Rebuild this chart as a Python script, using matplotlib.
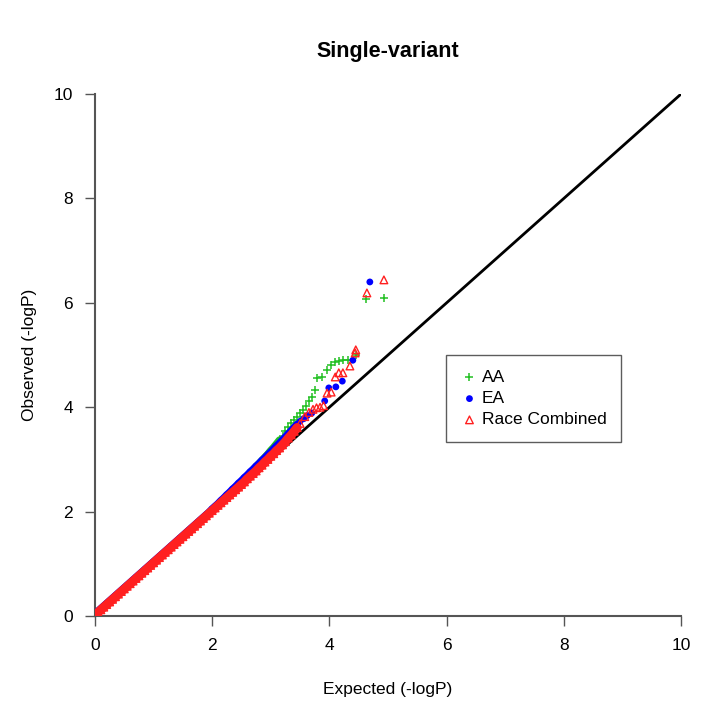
import numpy as np
import matplotlib.pyplot as plt

plt.rcParams['font.family'] = ['Liberation Sans', 'DejaVu Sans']

# expected -log10(P) grid for the dense bulk of the QQ curve
expected_grid = [0.00, 0.05, 0.10, 0.15, 0.20, 0.25, 0.30, 0.35, 0.40, 0.45,
                 0.50, 0.55, 0.60, 0.65, 0.70, 0.75, 0.80, 0.85, 0.90, 0.95,
                 1.00, 1.05, 1.10, 1.15, 1.20, 1.25, 1.30, 1.35, 1.40, 1.45,
                 1.50, 1.55, 1.60, 1.65, 1.70, 1.75, 1.80, 1.85, 1.90, 1.95,
                 2.00, 2.05, 2.10, 2.15, 2.20, 2.25, 2.30, 2.35, 2.40, 2.45,
                 2.50, 2.55, 2.60, 2.65, 2.70, 2.75, 2.80, 2.85, 2.90, 2.95,
                 3.00, 3.05, 3.10, 3.15, 3.20, 3.25, 3.30, 3.35, 3.40, 3.45,
                 3.50]

aa_obs = [0.03, 0.08, 0.13, 0.18, 0.23, 0.28, 0.33, 0.38, 0.43, 0.48,
          0.53, 0.58, 0.63, 0.68, 0.73, 0.78, 0.83, 0.88, 0.93, 0.98,
          1.03, 1.08, 1.13, 1.18, 1.23, 1.28, 1.33, 1.38, 1.43, 1.48,
          1.53, 1.58, 1.63, 1.68, 1.73, 1.78, 1.83, 1.88, 1.93, 1.98,
          2.03, 2.08, 2.13, 2.18, 2.23, 2.28, 2.33, 2.38, 2.43, 2.49,
          2.55, 2.62, 2.68, 2.74, 2.80, 2.86, 2.92, 2.98, 3.04, 3.10,
          3.17, 3.23, 3.30, 3.37, 3.45, 3.54, 3.62, 3.69, 3.76, 3.82,
          3.88]
ea_obs = [0.03, 0.09, 0.14, 0.19, 0.24, 0.29, 0.34, 0.39, 0.44, 0.49,
          0.54, 0.59, 0.64, 0.69, 0.74, 0.79, 0.84, 0.89, 0.94, 0.99,
          1.04, 1.09, 1.14, 1.19, 1.24, 1.29, 1.34, 1.39, 1.44, 1.49,
          1.54, 1.59, 1.64, 1.69, 1.74, 1.79, 1.84, 1.89, 1.94, 1.99,
          2.05, 2.10, 2.15, 2.21, 2.26, 2.32, 2.37, 2.43, 2.48, 2.54,
          2.59, 2.65, 2.70, 2.76, 2.81, 2.87, 2.92, 2.98, 3.03, 3.09,
          3.14, 3.20, 3.26, 3.31, 3.37, 3.43, 3.49, 3.55, 3.61, 3.67,
          3.73]
comb_obs = [0.02, 0.07, 0.12, 0.17, 0.22, 0.27, 0.32, 0.37, 0.42, 0.47,
            0.52, 0.57, 0.62, 0.67, 0.72, 0.77, 0.82, 0.87, 0.92, 0.97,
            1.02, 1.07, 1.12, 1.17, 1.22, 1.27, 1.32, 1.37, 1.42, 1.47,
            1.52, 1.57, 1.62, 1.67, 1.72, 1.77, 1.82, 1.87, 1.92, 1.97,
            2.02, 2.07, 2.12, 2.17, 2.22, 2.27, 2.32, 2.37, 2.42, 2.47,
            2.52, 2.57, 2.63, 2.68, 2.73, 2.78, 2.84, 2.89, 2.95, 3.00,
            3.06, 3.11, 3.17, 3.22, 3.28, 3.34, 3.41, 3.47, 3.54, 3.61,
            3.69]

# sparse upper tail
aa_tail_exp = [3.55, 3.60, 3.65, 3.70, 3.75, 3.79, 3.87, 3.96, 4.03, 4.10, 4.16, 4.23, 4.32, 4.45, 4.62, 4.93]
aa_tail_obs = [3.95, 4.03, 4.11, 4.20, 4.33, 4.56, 4.58, 4.71, 4.81, 4.87, 4.89, 4.90, 4.90, 5.00, 6.07, 6.09]
ea_tail_exp = [3.56, 3.62, 3.70, 3.92, 3.99, 4.11, 4.22, 4.40, 4.69]
ea_tail_obs = [3.78, 3.84, 3.89, 4.12, 4.37, 4.39, 4.50, 4.90, 6.40]
comb_tail_exp = [3.58, 3.65, 3.72, 3.78, 3.84, 3.90, 3.96, 4.03, 4.10, 4.16, 4.23, 4.35, 4.44, 4.45, 4.64, 4.93]
comb_tail_obs = [3.82, 3.90, 3.96, 3.99, 4.00, 4.03, 4.27, 4.29, 4.58, 4.66, 4.66, 4.79, 5.04, 5.10, 6.19, 6.44]

green = '#22c022'
blue = '#0000ff'
red = '#ff2020'

fig = plt.figure(figsize=(7.18, 7.25), dpi=100)
ax = fig.add_axes([0.1323, 0.1503, 0.8162, 0.72])

ax.plot([0, 10], [0, 10], color='black', lw=2.0, zorder=1)

# dense part of each curve: many overlapping points form a solid band
ax.plot(expected_grid[:64], aa_obs[:64], color=green, lw=5.5,
        solid_capstyle='round', zorder=2)
ax.plot(expected_grid[:70], ea_obs[:70], color=blue, lw=5.5,
        solid_capstyle='round', zorder=3)
ax.plot(expected_grid[:70], comb_obs[:70], color=red, lw=6.5,
        solid_capstyle='round', zorder=4)

ax.scatter(expected_grid + aa_tail_exp, aa_obs + aa_tail_obs, marker='+',
           s=34, color=green, linewidths=1.1, zorder=2, label='AA')
ax.scatter(expected_grid + ea_tail_exp, ea_obs + ea_tail_obs, marker='o',
           s=24, color=blue, edgecolors='none', zorder=3, label='EA')
ax.scatter(expected_grid + comb_tail_exp, comb_obs + comb_tail_obs, marker='^',
           s=30, facecolors='none', edgecolors=red, linewidths=1.0,
           zorder=4, label='Race Combined')

ax.set_xlim(0, 10)
ax.set_ylim(0, 10)
ax.set_xticks([0, 2, 4, 6, 8, 10])
ax.set_yticks([0, 2, 4, 6, 8, 10])
for side in ['top', 'right']:
    ax.spines[side].set_visible(False)
for side in ['left', 'bottom']:
    ax.spines[side].set_color('#555555')
    ax.spines[side].set_linewidth(1.5)
ax.tick_params(direction='out', length=7, width=1, color='#555555',
               labelsize=12.5)
ax.tick_params(axis='x', pad=9)
ax.tick_params(axis='y', pad=9)

ax.set_title('Single-variant', fontsize=15.5, fontweight='bold', pad=27)
ax.set_xlabel('Expected (-logP)', fontsize=12.5, labelpad=21)
ax.set_ylabel('Observed (-logP)', fontsize=12.5, labelpad=12)

leg = ax.legend(loc='upper left', bbox_to_anchor=(0.599, 0.5), fontsize=12.5,
                frameon=True, fancybox=False, edgecolor='#333333',
                borderpad=0.85, labelspacing=0.35, handletextpad=0.2,
                handlelength=1.0, scatterpoints=1, borderaxespad=0)
leg.get_frame().set_linewidth(1.0)

plt.savefig('out.png', dpi=100)
